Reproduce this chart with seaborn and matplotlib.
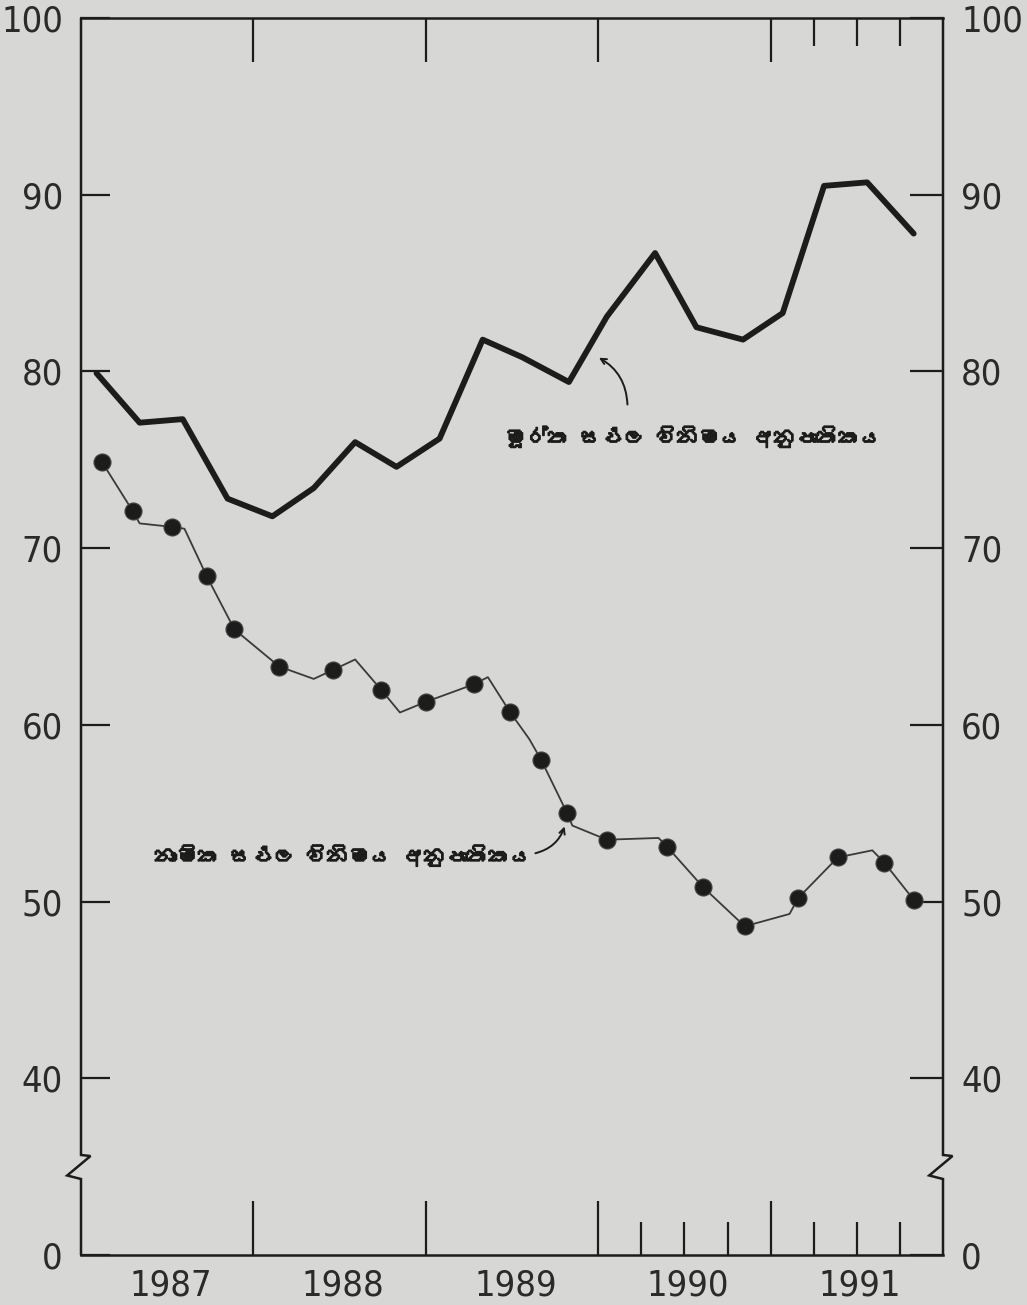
import matplotlib
matplotlib.use("Agg")
import matplotlib.pyplot as plt
import matplotlib.patheffects as pe
import seaborn as sns
import pandas as pd
from matplotlib import font_manager as fm
from fontTools.ttLib import TTFont

# Real effective exchange rate (quarterly), x in decimal years
real_x = [1987.09, 1987.34, 1987.59, 1987.85, 1988.11, 1988.35, 1988.59, 1988.83,
          1989.08, 1989.33, 1989.56, 1989.83, 1990.05, 1990.33, 1990.57, 1990.84,
          1991.07, 1991.31, 1991.56, 1991.83]
real_y = [79.9, 77.1, 77.3, 72.8, 71.8, 73.4, 76.0, 74.6, 76.2, 81.8,
          80.8, 79.4, 83.1, 86.7, 82.5, 81.8, 83.3, 90.5, 90.7, 87.8]

# Nominal effective exchange rate, line vertices (dot = marked point)
nominal_x = [1987.12, 1987.30, 1987.34, 1987.53, 1987.60, 1987.73, 1987.89, 1988.15,
             1988.35, 1988.46, 1988.59, 1988.74, 1988.85, 1989.00, 1989.28, 1989.36,
             1989.49, 1989.60, 1989.67, 1989.82, 1989.85, 1990.05, 1990.35, 1990.40,
             1990.61, 1990.85, 1991.11, 1991.16, 1991.39, 1991.59, 1991.66, 1991.83]
nominal_y = [74.9, 72.1, 71.4, 71.2, 71.1, 68.4, 65.4, 63.3,
             62.6, 63.1, 63.7, 62.0, 60.7, 61.3, 62.3, 62.7,
             60.7, 59.2, 58.0, 55.0, 54.3, 53.5, 53.6, 53.1,
             50.8, 48.6, 49.3, 50.2, 52.5, 52.9, 52.2, 50.1]
nominal_dot = [1, 1, 0, 1, 0, 1, 1, 1,
               0, 1, 0, 1, 0, 1, 1, 0,
               1, 0, 1, 1, 0, 1, 0, 1,
               1, 1, 0, 1, 1, 0, 1, 1]

years = [1987, 1988, 1989, 1990, 1991]
y_ticks = [30, 40, 50, 60, 70, 80, 90, 100]
y_labels = ["0", "40", "50", "60", "70", "80", "90", "100"]

real_label = "මූර්ත සඵල විනිමය අනුපාතිකය"
nominal_label = "නාමික සඵල විනිමය අනුපාතිකය"


def font_with(ch):
    for f in fm.fontManager.ttflist:
        try:
            tt = TTFont(f.fname, fontNumber=0, lazy=True)
            if ord(ch) in tt.getBestCmap():
                return f.name
        except Exception:
            pass
    return None


def narrow_font():
    # a condensed sans for the numbers, if one is around
    files = [f.fname for f in fm.fontManager.ttflist]
    for key in ["LiberationSansNarrow-Regular", "DejaVuSansCondensed.ttf",
                "Roboto_Condensed-Regular", "RobotoCondensed-Regular",
                "OpenSans_Condensed-Regular", "OpenSans-CondensedRegular"]:
        for fn in files:
            if key in fn:
                return fm.FontProperties(fname=fn)
    return fm.FontProperties(family="DejaVu Sans", stretch="condensed")


sin_font = font_with("ම")
sin_family = [sin_font, "DejaVu Sans"] if sin_font else ["DejaVu Sans"]

sns.set_style("ticks")
plt.rcParams["font.family"] = ["DejaVu Sans"]

num_fp = narrow_font()
num_fp.set_size(26)

bg = "#d7d7d5"
ink = "#1c1c1c"

fig = plt.figure(figsize=(10.27, 13.05), dpi=100, facecolor=bg)
ax = fig.add_axes([81 / 1027, 50 / 1305, 862 / 1027, 1237 / 1305])
ax.set_facecolor(bg)

real_df = pd.DataFrame({"x": real_x, "y": real_y})
nom_df = pd.DataFrame({"x": nominal_x, "y": nominal_y, "dot": nominal_dot})

sns.lineplot(data=real_df, x="x", y="y", ax=ax, color=ink, lw=4.2, sort=False)
sns.lineplot(data=nom_df, x="x", y="y", ax=ax, color="#3a3a3a", lw=1.3, sort=False)
sns.scatterplot(data=nom_df[nom_df["dot"] == 1], x="x", y="y", ax=ax,
                color=ink, s=150, edgecolor="#444444", linewidth=0.8, zorder=5)

ax.set_xlim(1987, 1992)
ax.set_ylim(30, 100)
ax.set_xlabel("")
ax.set_ylabel("")

# spines: left/right drawn by hand with the axis break
for s in ["left", "right"]:
    ax.spines[s].set_visible(False)
for s in ["top", "bottom"]:
    ax.spines[s].set_color(ink)
    ax.spines[s].set_linewidth(1.8)

tr = ax.get_yaxis_transform()
for x0 in [0, 1]:
    ax.plot([x0, x0, x0 + 0.011, x0 - 0.016, x0, x0],
            [100, 35.66, 35.6, 34.5, 34.3, 30],
            transform=tr, color=ink, lw=1.8, clip_on=False, solid_joinstyle="miter")

# left y axis
ax.set_yticks(y_ticks)
ax.set_yticklabels(y_labels)
ax.tick_params(axis="y", direction="in", length=21, width=1.6, color=ink,
               pad=13, left=True, right=False)
ax.yaxis.set_ticks_position("left")

# right y axis
axr = ax.secondary_yaxis("right")
axr.set_yticks(y_ticks)
axr.set_yticklabels(y_labels)
axr.spines["right"].set_visible(False)
axr.tick_params(direction="in", length=24, width=1.6, color=ink, pad=13)

# bottom x axis: year labels centred, year boundaries as long ticks
ax.set_xticks([y + 0.52 for y in years])
ax.set_xticklabels([str(y) for y in years])
ax.set_xticks([1988, 1989, 1990, 1991], minor=True)
ax.tick_params(axis="x", which="major", length=0, pad=10)
ax.tick_params(axis="x", which="minor", direction="in", length=39, width=1.6, color=ink)

axb = ax.secondary_xaxis("bottom")
axb.set_xticks([1990.25, 1990.5, 1990.75, 1991.25, 1991.5, 1991.75])
axb.set_xticklabels([])
axb.spines["bottom"].set_visible(False)
axb.tick_params(direction="in", length=24, width=1.6, color=ink)

axt = ax.secondary_xaxis("top")
axt.set_xticks([1988, 1989, 1990, 1991])
axt.set_xticks([1991.25, 1991.5, 1991.75], minor=True)
axt.set_xticklabels([])
axt.spines["top"].set_visible(False)
axt.tick_params(which="major", direction="in", length=32, width=1.6, color=ink)
axt.tick_params(which="minor", direction="in", length=20, width=1.6, color=ink)

for lab in ax.get_xticklabels() + ax.get_yticklabels() + axr.get_yticklabels():
    lab.set_fontproperties(num_fp)
    lab.set_color("#2a2a2a")

# labels with arrows (thin stroke gives the bold look of the print)
bold = [pe.withStroke(linewidth=1.0, foreground=ink)]
ax.text(1989.46, 76.3, real_label, fontsize=15.5, fontweight="bold",
        family=sin_family, color=ink, va="center", ha="left", path_effects=bold)
ax.annotate("", xy=(1989.99, 80.85), xytext=(1990.17, 77.97),
            arrowprops=dict(arrowstyle="->", color=ink, lw=1.4,
                            connectionstyle="arc3,rad=0.3"))

ax.text(1987.43, 52.6, nominal_label, fontsize=15.5, fontweight="bold",
        family=sin_family, color=ink, va="center", ha="left", path_effects=bold)
ax.annotate("", xy=(1989.81, 54.4), xytext=(1989.62, 52.7),
            arrowprops=dict(arrowstyle="->", color=ink, lw=1.4,
                            connectionstyle="arc3,rad=0.3"))

fig.savefig("out.png", dpi=100, facecolor=bg)
